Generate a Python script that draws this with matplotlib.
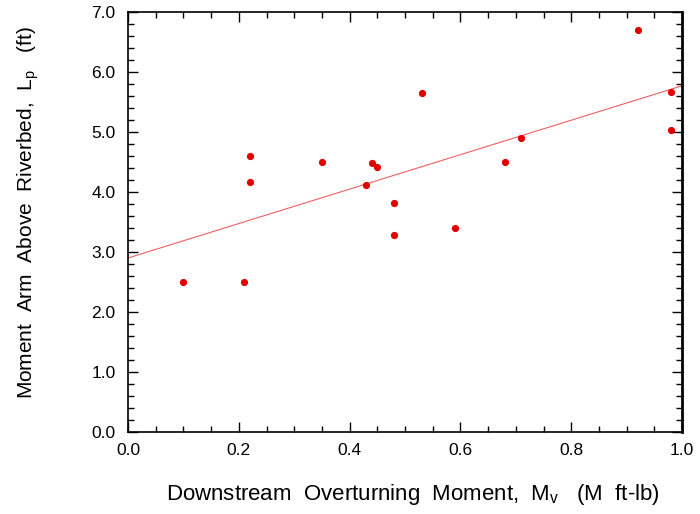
import matplotlib
matplotlib.use("Agg")
import matplotlib.pyplot as plt
from matplotlib.ticker import MultipleLocator
import numpy as np

plt.rcParams['font.family'] = ['Liberation Sans', 'DejaVu Sans']

moment = [0.10, 0.21, 0.22, 0.22, 0.35, 0.43, 0.44, 0.45, 0.48, 0.48,
          0.53, 0.59, 0.68, 0.71, 0.92, 0.98, 0.98]
arm = [2.50, 2.50, 4.60, 4.17, 4.50, 4.12, 4.48, 4.42, 3.82, 3.28,
       5.65, 3.40, 4.50, 4.90, 6.70, 5.67, 5.03]
fit_intercept = 2.90
fit_slope = 2.87

x_ticks = [0.0, 0.2, 0.4, 0.6, 0.8, 1.0]
y_ticks = [0.0, 1.0, 2.0, 3.0, 4.0, 5.0, 6.0, 7.0]

fig = plt.figure(figsize=(7.0, 5.14), dpi=100)
ax = fig.add_axes([128/700, 1-432/514, (682-128)/700, (432-12)/514])

xl = np.array([0.0, 1.0])
ax.plot(xl, fit_intercept + fit_slope*xl, color='#f06060', lw=0.8, zorder=2)
ax.plot(moment, arm, 'o', color='#e00000', ms=5.2, mec='none', zorder=3, clip_on=False)

ax.set_xlim(0, 1.0)
ax.set_ylim(0, 7.0)
ax.set_xticks(x_ticks)
ax.set_xticklabels([f"{v:.1f}" for v in x_ticks])
ax.set_yticks(y_ticks)
ax.set_yticklabels([f"{v:.1f}" for v in y_ticks])
ax.xaxis.set_minor_locator(MultipleLocator(0.05))
ax.yaxis.set_minor_locator(MultipleLocator(0.2))
ax.tick_params(which='both', direction='in', top=True, right=True, labelsize=12.5)
ax.tick_params(which='major', length=7, width=1)
ax.tick_params(which='minor', length=4, width=1)
ax.tick_params(axis='x', pad=8)
ax.tick_params(axis='y', pad=9)
for s in ax.spines.values():
    s.set_linewidth(1.2)
ax.spines['right'].set_linewidth(2)

ax.set_xlabel(r"Downstream  Overturning  Moment,  M$_{\mathregular{v}}$   (M  ft-lb)",
              fontsize=16)
ax.xaxis.set_label_coords(0.515, -0.12)
ax.set_ylabel(r"Moment  Arm  Above  Riverbed,  L$_{\mathregular{p}}$   (ft)",
              fontsize=15)
ax.yaxis.set_label_coords(-0.157, 0.523)

fig.savefig("out.png", dpi=100)
